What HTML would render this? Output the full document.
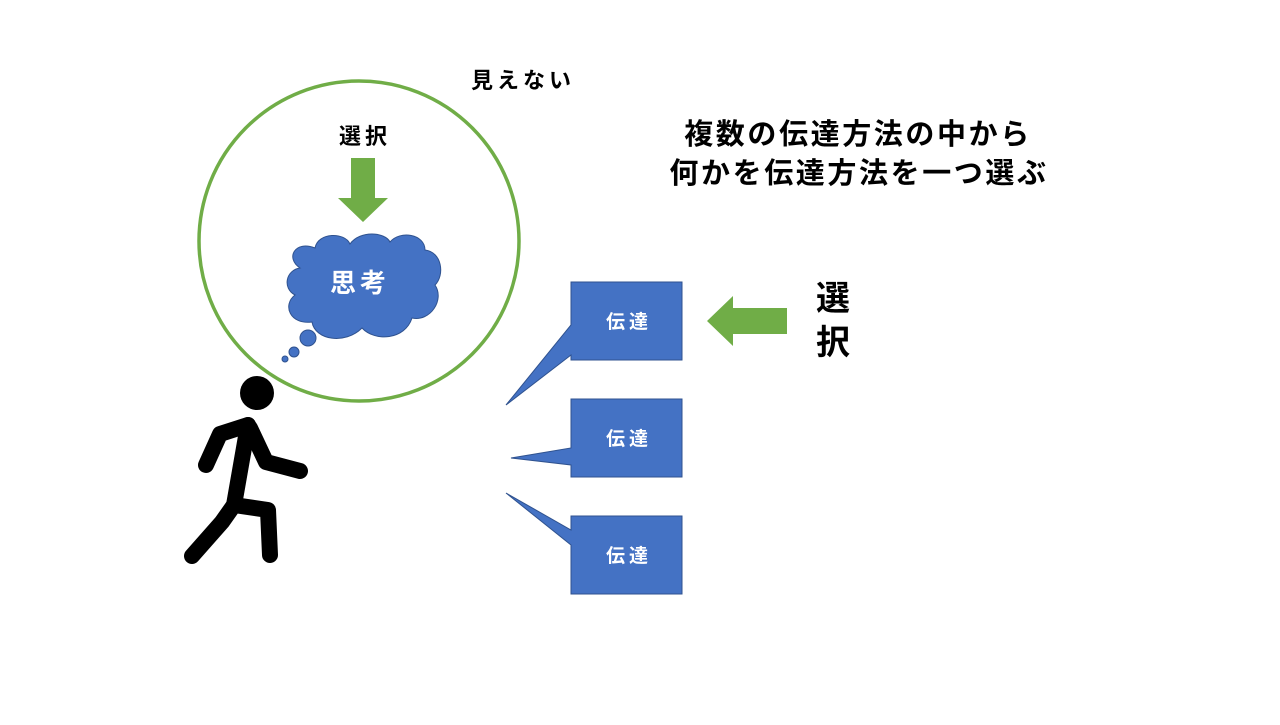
<!DOCTYPE html>
<html><head><meta charset="utf-8"><style>
body{margin:0;background:#fff;}
svg text{font-family:"Liberation Sans","Noto Sans CJK JP",sans-serif;font-weight:bold;}
</style></head><body>
<svg width="1280" height="720" viewBox="0 0 1280 720">
<text x="523" y="88" font-size="22" letter-spacing="4" text-anchor="middle">見えない</text>
<circle cx="359" cy="241" r="160" fill="none" stroke="#70ad47" stroke-width="3.5"/>
<text x="365" y="144" font-size="22" letter-spacing="4" text-anchor="middle">選択</text>
<polygon points="351,158 375,158 375,198 388,198 363,222 338,198 351,198" fill="#70ad47"/>
<g fill="#4472c4" stroke="#2f528f" stroke-width="1">
<path d="M300,268 C285,258 295,240 315,248 C318,232 345,232 350,244 C360,230 385,232 390,242 C400,230 425,234 425,250 C442,252 445,275 435,285 C445,300 430,322 412,318 C405,340 375,342 362,328 C345,345 315,340 312,322 C290,325 282,305 295,295 C282,288 286,270 300,268 Z"/>
<circle cx="308" cy="338" r="8"/>
<circle cx="294" cy="352" r="5"/>
<circle cx="285" cy="359" r="3"/>
</g>
<text x="360" y="292" font-size="26" letter-spacing="4" fill="#fff" text-anchor="middle">思考</text>
<circle cx="257" cy="393" r="17" fill="#000"/>
<g stroke="#000" stroke-width="16" stroke-linecap="round" stroke-linejoin="round" fill="none">
<path d="M248,425 L234,505"/>
<path d="M248,425 L220,434 L206,465"/>
<path d="M250,428 L266,462 L300,471"/>
<path d="M234,505 L222,522 L192,556"/>
<path d="M234,505 L268,510 L270,555"/>
</g>
<g fill="#4472c4" stroke="#2f528f" stroke-width="1">
<polygon points="571,282 682,282 682,360 571,360 571,355 506,405 571,325"/>
<polygon points="571,399 682,399 682,477 571,477 571,465 511,458 571,448"/>
<polygon points="571,516 682,516 682,594 571,594 571,545 506,493 571,530"/>
</g>
<text x="629" y="328" font-size="19" letter-spacing="4" fill="#fff" text-anchor="middle">伝達</text>
<text x="629" y="445" font-size="19" letter-spacing="4" fill="#fff" text-anchor="middle">伝達</text>
<text x="629" y="562" font-size="19" letter-spacing="4" fill="#fff" text-anchor="middle">伝達</text>
<polygon points="787,308 787,334 733,334 733,346 707,321 733,296 733,308" fill="#70ad47"/>
<text x="833" y="310" font-size="34" text-anchor="middle">選</text>
<text x="833" y="354" font-size="34" text-anchor="middle">択</text>
<text x="858" y="144" font-size="29" letter-spacing="2.6" text-anchor="middle">複数の伝達方法の中から</text>
<text x="859" y="183" font-size="29" letter-spacing="2.6" text-anchor="middle">何かを伝達方法を一つ選ぶ</text>
</svg>
</body></html>
